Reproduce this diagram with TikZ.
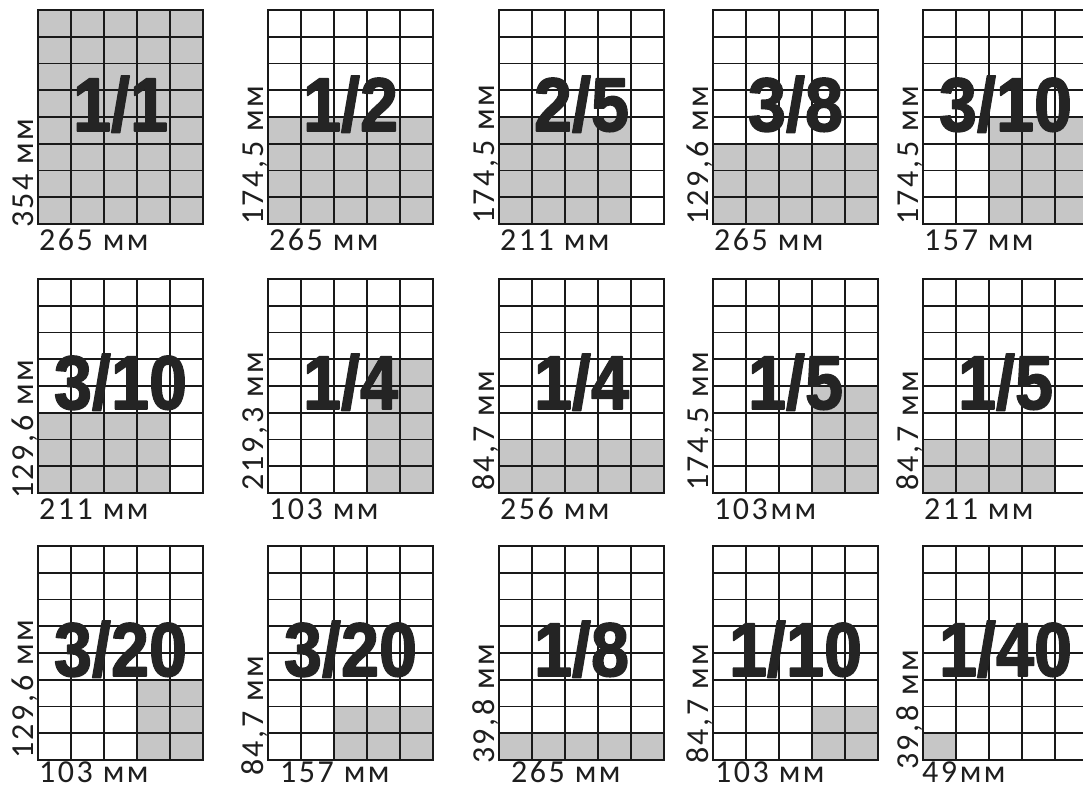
\documentclass[tikz,border=0pt]{standalone}
\usepackage{fontspec}
\usepackage{graphicx}
\usetikzlibrary{calc}
\newfontfamily\labfont[LetterSpace=8]{Carlito}
\newfontfamily\fracfont{Liberation Sans}
\definecolor{cellgray}{RGB}{198,198,198}
\definecolor{fracink}{RGB}{36,36,36}
\definecolor{labink}{RGB}{30,30,30}
\definecolor{inkline}{RGB}{25,25,25}
% heavier glyphs: fill and stroke the text in one pass
\newcommand\heavy[1]{\special{pdf:literal direct 2 Tr 1.6 w 1 j}#1\special{pdf:literal direct 0 Tr}}
% #1 name, #2 left, #3 top, #4 c1, #5 r1, #6 c2, #7 r2, #8 fraction, #9 baseline offset
\newcommand\sheet[9]{%
  \coordinate (#1) at (#2,#3);
  \fill[cellfill] ($(#1)+(#4*33,#5*26.75)$) rectangle ($(#1)+(#6*33,#7*26.75)$);
  \foreach \i in {1,...,4} \draw[gridline] ($(#1)+(\i*33,0)$) -- ++(0,214);
  \foreach \j in {1,...,7} \draw[gridline] ($(#1)+(0,\j*26.75)$) -- ++(165,0);
  \draw[gridline] (#1) rectangle ++(165,214);
  \node[fraclab] (#1-frac) at ($(#1)+(82.5,#9)$) {\scalebox{0.9}[1]{\heavy{#8}}};
}
% #1 panel, #2 vertical text, #3 offset below bottom, #4 horizontal text, #5 horizontal x offset, #6 baseline offset
\newcommand\dims[6]{%
  \node[vlab] (#1-v) at ($(#1)+(-5,{214+#3})$) {#2};
  \node[hlab] (#1-w) at ($(#1)+({#5},{#6})$) {#4};
}
\begin{document}
\begin{tikzpicture}[x=1pt,y=-1pt,
  gridline/.style={line width=1.8pt,draw=inkline,line cap=rect},
  cellfill/.style={fill=cellgray},
  fraclab/.style={inner sep=0pt,anchor=base,text=fracink,font={\fracfont\bfseries\fontsize{76}{78}\selectfont}},
  hlab/.style={inner sep=0pt,anchor=base west,text=labink,font={\labfont\fontsize{32}{34}\selectfont}},
  vlab/.style={hlab,rotate=90}]
\fill[white] (0,0) rectangle (1083,789);
\useasboundingbox (0,0) rectangle (1083,789);
\clip (0,0) rectangle (1083,789);
% row 1
\sheet{a1}{38}{10}{0}{0}{5}{8}{1/1}{121}
\sheet{a2}{268}{10}{0}{4}{5}{8}{1/2}{121}
\sheet{a3}{499}{10}{0}{4}{4}{8}{2/5}{121}
\sheet{a4}{713}{10}{0}{5}{5}{8}{3/8}{121}
\sheet{a5}{923}{10}{2}{4}{5}{8}{3/10}{121}
\dims{a1}{354 мм}{4}{265 мм}{1}{240}
\dims{a2}{174,5 мм}{1}{265 мм}{1}{240}
\dims{a3}{174,5 мм}{0}{211 мм}{1}{240}
\dims{a4}{129,6 мм}{1}{265 мм}{1}{240}
\dims{a5}{174,5 мм}{1}{157 мм}{1}{240}
% row 2
\sheet{b1}{38}{279}{0}{5}{4}{8}{3/10}{130}
\sheet{b2}{268}{279}{3}{3}{5}{8}{1/4}{130}
\sheet{b3}{499}{279}{0}{6}{5}{8}{1/4}{130}
\sheet{b4}{713}{279}{3}{4}{5}{8}{1/5}{130}
\sheet{b5}{923}{279}{0}{6}{4}{8}{1/5}{130}
\dims{b1}{129,6 мм}{6}{211 мм}{1}{240}
\dims{b2}{219,3 мм}{-2}{103 мм}{1}{240}
\dims{b3}{84,7 мм}{-2}{256 мм}{1}{240}
\dims{b4}{174,5 мм}{-2}{103мм}{1}{240}
\dims{b5}{84,7 мм}{-2}{211 мм}{1}{240}
% row 3
\sheet{c1}{38}{546}{3}{5}{5}{8}{3/20}{130}
\sheet{c2}{268}{546}{2}{6}{5}{8}{3/20}{130}
\sheet{c3}{499}{546}{0}{7}{5}{8}{1/8}{130}
\sheet{c4}{713}{546}{3}{6}{5}{8}{1/10}{130}
\sheet{c5}{923}{546}{0}{7}{1}{8}{1/40}{130}
\dims{c1}{129,6 мм}{-1}{103 мм}{1}{236}
\dims{c2}{84,7 мм}{16}{157 мм}{12}{236}
\dims{c3}{39,8 мм}{4}{265 мм}{12}{236}
\dims{c4}{84,7 мм}{4}{103 мм}{2}{236}
\dims{c5}{39,8 мм}{10}{49мм}{-1}{236}
\end{tikzpicture}
\end{document}
